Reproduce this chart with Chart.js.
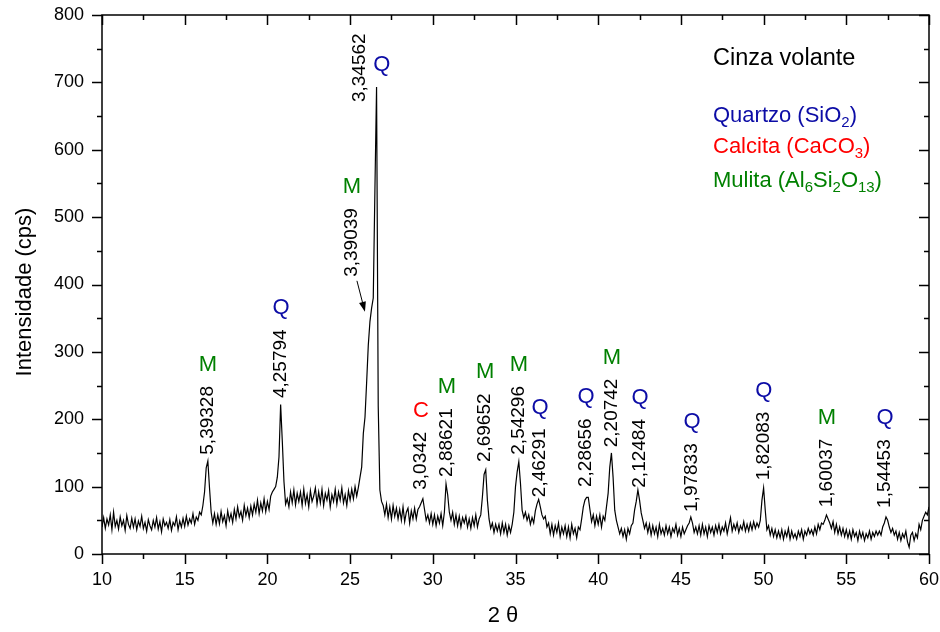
<!DOCTYPE html>
<html>
<head>
<meta charset="utf-8">
<script src="https://cdn.jsdelivr.net/npm/chart.js@4.4.1/dist/chart.umd.min.js"></script>
<style>
  html, body { margin: 0; padding: 0; background: #fff; }
  #xrd { display: block; }
</style>
</head>
<body>
<canvas id="xrd" width="940" height="632"></canvas>
<script>
// Diffractogram of fly ash (cinza volante), 2θ scan 10–60°, 0.1° step
const scanStart = 10;
const scanStep = 0.1;

// intensity in cps, one row per degree (10.0 ... 10.9, 11.0 ...)
const cps = [
  40, 54, 38, 52, 43, 58, 36, 62, 41, 50,   // 10
  37, 55, 42, 50, 35, 57, 44, 38, 53, 40,   // 11
  52, 36, 49, 41, 56, 38, 47, 34, 51, 42,   // 12
  36, 50, 40, 54, 37, 48, 33, 52, 42, 47,   // 13
  38, 51, 35, 47, 42, 55, 36, 49, 40, 53,   // 14
  41, 56, 43, 52, 46, 60, 44, 55, 50, 62,   // 15
  58, 72, 92, 128, 138, 98, 62, 46, 60, 44, // 16
  58, 45, 63, 48, 57, 42, 64, 50, 60, 47,   // 17
  66, 52, 70, 55, 63, 50, 72, 57, 68, 54,   // 18
  71, 58, 74, 62, 80, 60, 76, 64, 82, 63,   // 19
  78, 66, 86, 92, 96, 100, 114, 144, 222, 168, // 20
  108, 74, 82, 70, 92, 76, 95, 73, 90, 78,  // 21
  92, 72, 96, 75, 88, 70, 94, 78, 86, 98,   // 22
  74, 92, 76, 96, 72, 90, 80, 94, 70, 88,   // 23
  78, 96, 74, 92, 80, 98, 76, 88, 72, 94,   // 24
  80, 96, 82, 100, 86, 99, 114, 129, 179, 203, // 25
  255, 310, 345, 365, 380, 540, 693, 220, 95, 78, // 26
  72, 58, 74, 54, 70, 52, 72, 56, 68, 52,   // 27
  66, 50, 70, 48, 62, 68, 46, 64, 52, 68,   // 28
  52, 66, 70, 76, 82, 66, 50, 58, 46, 60,   // 29
  44, 58, 42, 56, 46, 60, 42, 62, 104, 88,  // 30
  62, 50, 62, 44, 58, 42, 56, 40, 54, 46,   // 31
  56, 40, 52, 38, 54, 42, 58, 40, 52, 58,   // 32
  85, 118, 125, 80, 52, 38, 46, 32, 44, 34, // 33
  44, 30, 46, 32, 44, 28, 42, 32, 44, 62,   // 34
  100, 122, 137, 105, 65, 54, 62, 50, 58, 44, // 35
  54, 46, 64, 74, 81, 70, 58, 52, 56, 40,   // 36
  46, 30, 44, 28, 42, 32, 46, 26, 40, 30,   // 37
  42, 26, 40, 24, 44, 30, 38, 24, 40, 36,   // 38
  52, 70, 80, 84, 84, 66, 48, 58, 42, 56,   // 39
  44, 58, 40, 56, 50, 70, 90, 129, 150, 114, // 40
  65, 50, 40, 30, 38, 26, 36, 22, 38, 30,   // 41
  42, 46, 65, 78, 95, 80, 61, 50, 38, 46,   // 42
  32, 44, 28, 42, 30, 40, 26, 44, 30, 38,   // 43
  28, 42, 30, 40, 26, 38, 32, 44, 28, 38,   // 44
  26, 40, 30, 36, 42, 46, 55, 46, 32, 40,   // 45
  30, 42, 28, 44, 30, 40, 26, 42, 32, 40,   // 46
  28, 42, 32, 44, 30, 40, 34, 46, 30, 42,   // 47
  54, 34, 44, 36, 46, 32, 42, 36, 48, 34,   // 48
  44, 34, 46, 36, 48, 38, 46, 40, 50, 80,   // 49
  98, 65, 36, 42, 28, 38, 26, 36, 24, 34,   // 50
  24, 36, 22, 34, 26, 38, 22, 34, 24, 30,   // 51
  22, 34, 26, 36, 22, 34, 28, 38, 30, 36,   // 52
  28, 40, 30, 44, 36, 46, 44, 50, 58, 52,   // 53
  46, 38, 48, 32, 44, 30, 40, 28, 38, 26,   // 54
  36, 24, 34, 22, 36, 26, 32, 20, 34, 24,   // 55
  32, 20, 30, 24, 34, 22, 32, 26, 34, 28,   // 56
  34, 28, 40, 46, 55, 50, 40, 32, 38, 28,   // 57
  34, 22, 32, 20, 30, 24, 34, 18, 10, 28,   // 58
  32, 20, 30, 24, 44, 36, 50, 56, 62, 58,   // 59
  70                                        // 60
];

// identified reflections: 2θ, label height (cps), d-spacing (Å), phase
const peakTheta = [16.41, 20.82, 26.61, 26.2, 29.29, 30.86, 33.16, 35.21, 36.48, 39.26, 40.83, 42.53, 45.67, 50.02, 53.83, 57.34];
const peakCps   = [137, 221, 693, 352, 85, 104, 126, 137, 74, 89, 148, 88, 52, 99, 59, 58];
const dSpacing  = ['5,39328', '4,25794', '3,34562', '3,39039', '3,0342', '2,88621', '2,69652', '2,54296',
                   '2,46291', '2,28656', '2,20742', '2,12484', '1,97833', '1,82083', '1,60037', '1,54453'];
const phase     = ['M', 'Q', 'Q', 'M', 'C', 'M', 'M', 'M', 'Q', 'Q', 'M', 'Q', 'Q', 'Q', 'M', 'Q'];

const phaseColor = { Q: '#0c0ca6', C: '#ff0000', M: '#008000' };
const FONT = '"Liberation Sans", Arial, Helvetica, sans-serif';

const points = cps.map((v, i) => ({ x: +(scanStart + i * scanStep).toFixed(1), y: v }));

// where the default placement (text right above the peak) doesn't fit
const labelShift = {
  2: { dx: -17, dy: 15, letter: [5, -22] },
  3: { dx: -18, dy: -40, arrow: true },
};

function richText(ctx, parts, x, y, size, color) {
  ctx.fillStyle = color;
  ctx.textAlign = 'left';
  ctx.textBaseline = 'middle';
  let cx = x;
  for (const [txt, sub] of parts) {
    ctx.font = (sub ? size * 0.68 : size) + 'px ' + FONT;
    ctx.fillText(txt, cx, sub ? y + size * 0.32 : y);
    cx += ctx.measureText(txt).width;
  }
}

const decor = {
  id: 'decor',
  afterDraw(chart) {
    const { ctx, chartArea: a, scales: { x, y } } = chart;
    ctx.save();

    // frame + ticks (out on left/bottom, in on top/right)
    ctx.strokeStyle = '#000';
    ctx.lineWidth = 1.5;
    ctx.strokeRect(a.left, a.top, a.right - a.left, a.bottom - a.top);
    ctx.beginPath();
    for (let v = 10; v <= 60.001; v += 2.5) {
      const px = Math.round(x.getPixelForValue(v)) + 0.5;
      const len = v % 5 === 0 ? 10 : 5;
      ctx.moveTo(px, a.bottom); ctx.lineTo(px, a.bottom + len);
      ctx.moveTo(px, a.top); ctx.lineTo(px, a.top + len);
    }
    for (let v = 0; v <= 800; v += 50) {
      const py = Math.round(y.getPixelForValue(v)) + 0.5;
      const len = v % 100 === 0 ? 10 : 5;
      ctx.moveTo(a.left - len, py); ctx.lineTo(a.left, py);
      ctx.moveTo(a.right - len, py); ctx.lineTo(a.right, py);
    }
    ctx.stroke();

    // axis titles
    ctx.fillStyle = '#000';
    ctx.font = '22px ' + FONT;
    ctx.textAlign = 'center';
    ctx.textBaseline = 'middle';
    ctx.fillText('2 θ', 503, 616);
    ctx.save();
    ctx.translate(25, 292);
    ctx.rotate(-Math.PI / 2);
    ctx.fillText('Intensidade (cps)', 0, 0);
    ctx.restore();

    // peak labels
    peakTheta.forEach((t, i) => {
      const px = x.getPixelForValue(t);
      const py = y.getPixelForValue(peakCps[i]);
      const s = labelShift[i] || {};
      const tx = px + (s.dx || 0);
      const ty = py + (s.dy !== undefined ? s.dy : -7);
      ctx.font = '19px ' + FONT;
      const w = ctx.measureText(dSpacing[i]).width;
      ctx.save();
      ctx.translate(tx, ty);
      ctx.rotate(-Math.PI / 2);
      ctx.fillStyle = '#000';
      ctx.textAlign = 'left';
      ctx.textBaseline = 'middle';
      ctx.fillText(dSpacing[i], 0, 0);
      ctx.restore();

      let lx = tx, ly = ty - w - 21;
      if (s.letter) { lx = px + s.letter[0]; ly = py + s.letter[1]; }
      ctx.font = '22px ' + FONT;
      ctx.fillStyle = phaseColor[phase[i]];
      ctx.textAlign = 'center';
      ctx.fillText(phase[i], lx, ly);

      if (s.arrow) {
        const x0 = px - 13, y0 = py - 36, x1 = px - 5, y1 = py - 5;
        const ang = Math.atan2(y1 - y0, x1 - x0);
        ctx.strokeStyle = '#000';
        ctx.lineWidth = 1;
        ctx.beginPath();
        ctx.moveTo(x0, y0); ctx.lineTo(x1 - 8 * Math.cos(ang), y1 - 8 * Math.sin(ang));
        ctx.stroke();
        ctx.fillStyle = '#000';
        ctx.beginPath();
        ctx.moveTo(x1, y1);
        ctx.lineTo(x1 - 10 * Math.cos(ang) + 3.5 * Math.sin(ang), y1 - 10 * Math.sin(ang) - 3.5 * Math.cos(ang));
        ctx.lineTo(x1 - 10 * Math.cos(ang) - 3.5 * Math.sin(ang), y1 - 10 * Math.sin(ang) + 3.5 * Math.cos(ang));
        ctx.closePath();
        ctx.fill();
      }
    });

    // sample name and phase key
    ctx.fillStyle = '#000';
    ctx.font = '23.5px ' + FONT;
    ctx.textAlign = 'left';
    ctx.fillText('Cinza volante', 713, 59);
    richText(ctx, [['Quartzo (SiO', false], ['2', true], [')', false]], 713, 116, 22, phaseColor.Q);
    richText(ctx, [['Calcita (CaCO', false], ['3', true], [')', false]], 713, 147, 22, phaseColor.C);
    richText(ctx, [['Mulita (Al', false], ['6', true], ['Si', false], ['2', true], ['O', false], ['13', true], [')', false]], 713, 181, 22, phaseColor.M);

    ctx.restore();
  }
};

new Chart(document.getElementById('xrd'), {
  type: 'line',
  data: {
    datasets: [{
      data: points,
      borderColor: '#000',
      borderWidth: 1.2,
      pointRadius: 0,
      fill: false,
      tension: 0,
    }]
  },
  options: {
    responsive: false,
    animation: false,
    layout: { padding: { top: 15, right: 11, left: 0, bottom: 0 } },
    plugins: { legend: { display: false }, tooltip: { enabled: false } },
    scales: {
      x: {
        type: 'linear', min: 10, max: 60,
        grid: { display: false, drawTicks: false },
        border: { display: false },
        ticks: { stepSize: 5, padding: 15, color: '#000', font: { family: FONT, size: 18 }, maxRotation: 0 },
        // fixed box; end labels may hang over the edges
        afterFit: s => { s.height = 78; s.paddingLeft = 0; s.paddingRight = 0; },
      },
      y: {
        min: 0, max: 800,
        grid: { display: false, drawTicks: false },
        border: { display: false },
        ticks: { stepSize: 100, padding: 18, color: '#000', font: { family: FONT, size: 18 } },
        afterFit: s => { s.width = 102; s.paddingTop = 0; s.paddingBottom = 0; },
      }
    }
  },
  plugins: [decor]
});
</script>
</body>
</html>
